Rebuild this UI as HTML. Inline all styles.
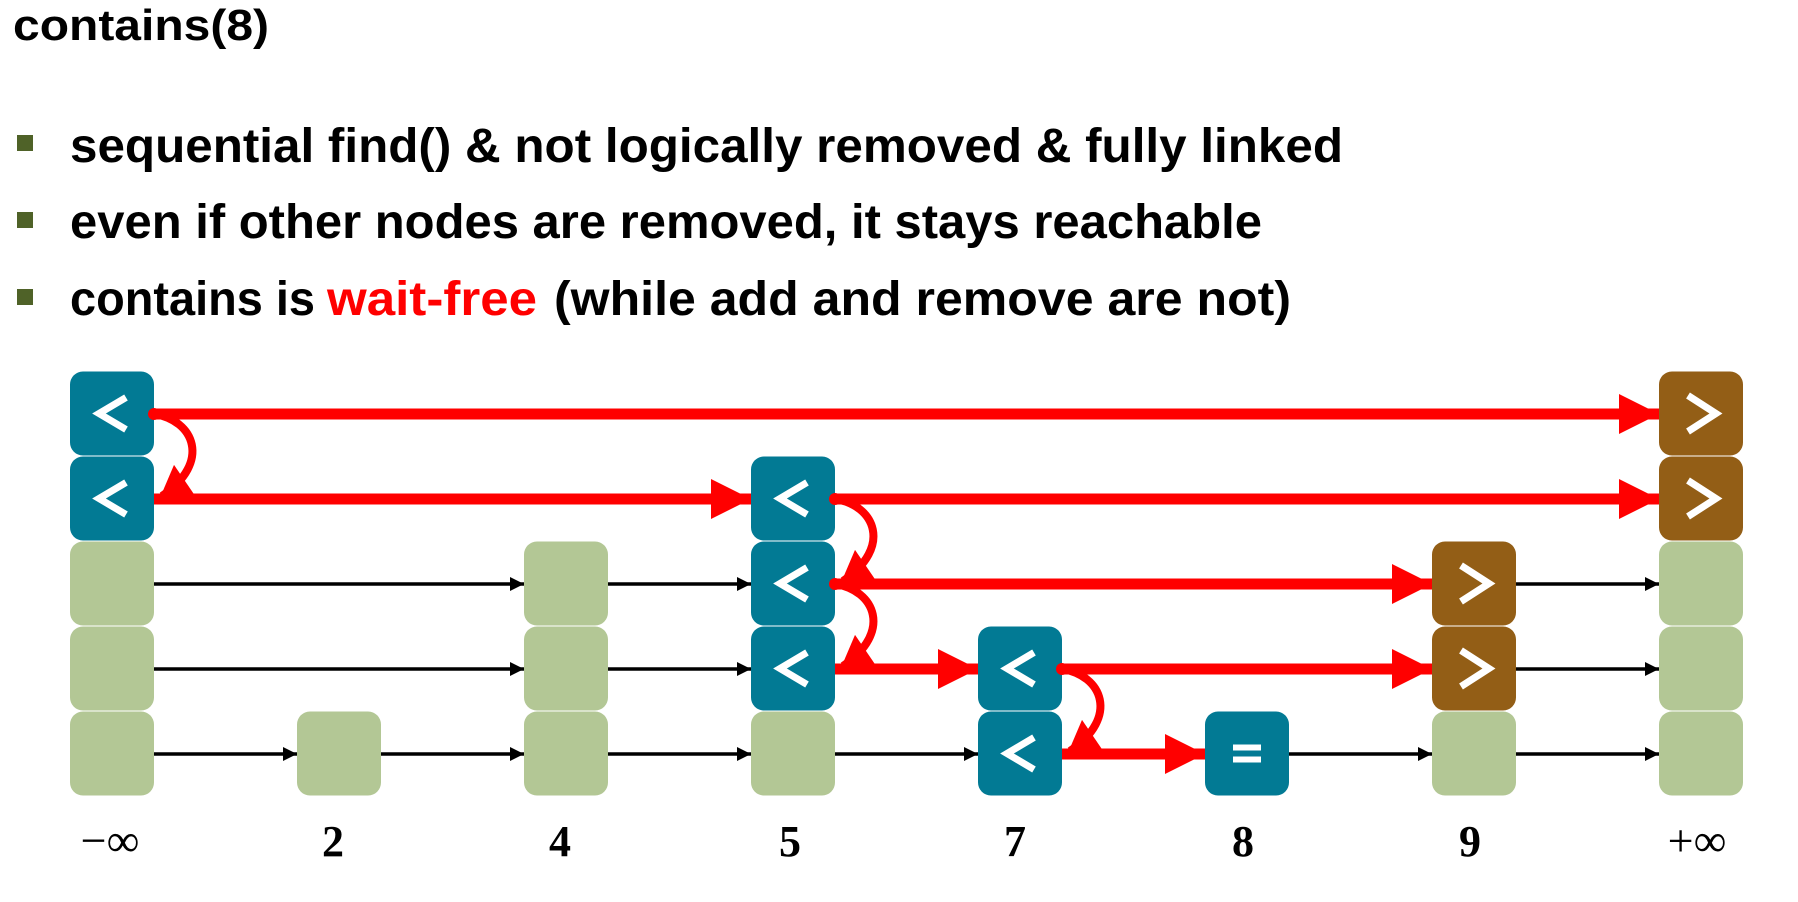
<!DOCTYPE html>
<html><head><meta charset="utf-8"><style>
html,body{margin:0;padding:0;background:#fff;}
svg{display:block;}
</style></head><body>
<svg width="1798" height="902" viewBox="0 0 1798 902" xmlns="http://www.w3.org/2000/svg">
<defs>
<marker id="rh" markerUnits="userSpaceOnUse" markerWidth="40" markerHeight="40" viewBox="0 0 36 36" refX="36" refY="18" orient="auto"><path d="M0,0 L36,18 L0,36 Z" fill="#ff0000"/></marker>
<marker id="rc" markerUnits="userSpaceOnUse" markerWidth="32" markerHeight="38" viewBox="0 0 28 36" refX="26" refY="18" orient="auto"><path d="M0,0 L28,18 L0,36 Z" fill="#ff0000"/></marker>
<marker id="bh" markerUnits="userSpaceOnUse" markerWidth="14" markerHeight="14" viewBox="0 0 14 14" refX="14" refY="7" orient="auto"><path d="M0,0 L14,7 L0,14 Z" fill="#000"/></marker>
</defs>
<g font-family="'Liberation Sans',sans-serif" font-weight="bold">
<text x="13" y="40" font-size="44" textLength="256" lengthAdjust="spacingAndGlyphs">contains(8)</text>
<rect x="17" y="135" width="16" height="16" fill="#4f6228"/>
<rect x="17" y="212" width="16" height="16" fill="#4f6228"/>
<rect x="17" y="289" width="16" height="16" fill="#4f6228"/>
<text x="70" y="162" font-size="48" textLength="1273" lengthAdjust="spacingAndGlyphs">sequential find() &amp; not logically removed &amp; fully linked</text>
<text x="70" y="238" font-size="48" textLength="1192" lengthAdjust="spacingAndGlyphs">even if other nodes are removed, it stays reachable</text>
<text x="70" y="315" font-size="48" textLength="245" lengthAdjust="spacingAndGlyphs">contains is</text>
<text x="327" y="315" font-size="48" fill="#ff0000" textLength="210" lengthAdjust="spacingAndGlyphs">wait-free</text>
<text x="554" y="315" font-size="48" textLength="737" lengthAdjust="spacingAndGlyphs">(while add and remove are not)</text>
</g>
<g id="nodes"></g>
<g id="lines"></g>
<g font-family="'Liberation Serif',serif" font-weight="bold" font-size="44" text-anchor="middle">
<text x="110" y="856" font-weight="normal" font-size="46">−∞</text>
<text x="333" y="856">2</text>
<text x="560" y="856">4</text>
<text x="790" y="856">5</text>
<text x="1015" y="856">7</text>
<text x="1243" y="856">8</text>
<text x="1470" y="856">9</text>
<text x="1697" y="856" font-weight="normal" font-size="46">+∞</text>
</g>
<script>
(function(){
var NS="http://www.w3.org/2000/svg";
var X=[70,297,524,751,978,1205,1432,1659],W=84,T=[371,456,541,626,711],H=85;
var G="#b3c795",TL="#027a94",BR="#935e16";
var nodes=[
[0,0,TL,"<"],[0,1,TL,"<"],[0,2,G],[0,3,G],[0,4,G],
[1,4,G],
[2,2,G],[2,3,G],[2,4,G],
[3,1,TL,"<"],[3,2,TL,"<"],[3,3,TL,"<"],[3,4,G],
[4,3,TL,"<"],[4,4,TL,"<"],
[5,4,TL,"="],
[6,2,BR,">"],[6,3,BR,">"],[6,4,G],
[7,0,BR,">"],[7,1,BR,">"],[7,2,G],[7,3,G],[7,4,G]];
var ng=document.getElementById("nodes"),lg=document.getElementById("lines");
function el(t,a,p){var e=document.createElementNS(NS,t);for(var k in a)e.setAttribute(k,a[k]);(p||ng).appendChild(e);return e;}
nodes.forEach(function(n){
 var x=X[n[0]],y=T[n[1]];
 el("rect",{x:x,y:y+0.5,width:W,height:H-1,rx:13,ry:13,fill:n[2]});
 var cx=x+W/2,cy=y+H/2;
 if(n[3]=="<") el("polyline",{points:(cx+14)+","+(cy-16)+" "+(cx-13)+","+cy+" "+(cx+14)+","+(cy+16),fill:"none",stroke:"#fff","stroke-width":7});
 if(n[3]==">") el("polyline",{points:(cx-13)+","+(cy-18)+" "+(cx+15)+","+cy+" "+(cx-13)+","+(cy+18),fill:"none",stroke:"#fff","stroke-width":7});
 if(n[3]=="="){el("rect",{x:cx-14,y:cy-9,width:28,height:6,fill:"#fff"});el("rect",{x:cx-14,y:cy+3,width:28,height:6,fill:"#fff"});}
});
function cy(r){return T[r]+43;}
function hl(c1,c2,r,red){
 var y=cy(r);
 if(red){el("line",{x1:X[c1]+W,y1:y,x2:X[c2],y2:y,stroke:"#ff0000","stroke-width":11,"marker-end":"url(#rh)"},lg);}
 else el("line",{x1:X[c1]+W,y1:y,x2:X[c2],y2:y,stroke:"#000","stroke-width":3.5,"marker-end":"url(#bh)"},lg);
}
function dot(c,r){el("circle",{cx:X[c]+W,cy:cy(r),r:6,fill:"#ff0000"},lg);}
hl(0,7,0,1);dot(0,0);
hl(0,3,1,1);hl(3,7,1,1);dot(3,1);
hl(0,2,2);hl(2,3,2);hl(3,6,2,1);hl(6,7,2);dot(3,2);
hl(0,2,3);hl(2,3,3);hl(3,4,3,1);hl(4,6,3,1);hl(6,7,3);dot(4,3);
hl(0,1,4);hl(1,2,4);hl(2,3,4);hl(3,4,4);hl(4,5,4,1);hl(5,6,4);hl(6,7,4);
function curve(c,r){
 var x=X[c]+W,y=cy(r);
 el("path",{d:"M"+x+","+y+" C"+(x+40)+","+(y+6)+" "+(x+58)+","+(y+48)+" "+(x+8)+","+(y+82),fill:"none",stroke:"#ff0000","stroke-width":8,"marker-end":"url(#rc)"},lg);
}
curve(0,0);curve(3,1);curve(3,2);curve(4,3);
})();
</script>
</svg>
</body></html>
